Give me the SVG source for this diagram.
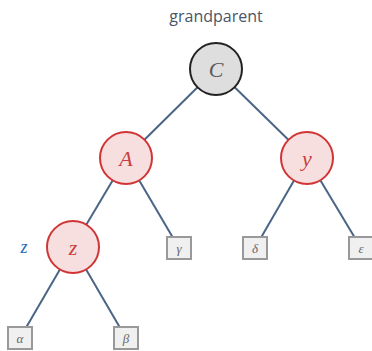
<svg xmlns="http://www.w3.org/2000/svg" width="372" height="351" viewBox="0 0 372 351">
<style>
.edge{stroke:#4a6586;stroke-width:2;fill:none}
.black circle{fill:#dedede;stroke:#222;stroke-width:2}
.red circle{fill:#f8dfdf;stroke:#d03434;stroke-width:2}
.nlab{font-family:"Liberation Serif",serif;font-style:italic;font-size:22px;text-anchor:middle;dominant-baseline:central}
.black .nlab{fill:#5a5a5a}
.red .nlab{fill:#c84040}
.leaf rect{fill:#f0f0f0;stroke:#999;stroke-width:2}
.leaf text{font-family:"Liberation Serif",serif;font-style:italic;font-size:13px;fill:#666;text-anchor:middle;dominant-baseline:central}
.title{font-family:"Open Sans",sans-serif;font-size:16px;fill:#4a5568;text-anchor:middle}
</style>
<rect width="372" height="351" fill="#fff"/>
<g id="connectors">
<line class="edge" x1="216" y1="69" x2="126" y2="158"/>
<line class="edge" x1="216" y1="69" x2="307" y2="158"/>
<line class="edge" x1="126" y1="158" x2="73" y2="247"/>
<line class="edge" x1="126" y1="158" x2="179" y2="248"/>
<line class="edge" x1="307" y1="158" x2="255" y2="248"/>
<line class="edge" x1="307" y1="158" x2="361" y2="248"/>
<line class="edge" x1="73" y1="247" x2="20" y2="338"/>
<line class="edge" x1="73" y1="247" x2="126" y2="338"/>
</g>
<text class="title" x="216" y="22">grandparent</text>
<g id="node-C" class="black"><circle cx="216" cy="69" r="26"/><text class="nlab" x="216" y="69">C</text></g>
<g id="node-A" class="red"><circle cx="126" cy="158" r="26"/><text class="nlab" x="126" y="158">A</text></g>
<g id="node-y" class="red"><circle cx="307" cy="158" r="26"/><text class="nlab" x="307" y="158">y</text></g>
<g id="node-z" class="red"><circle cx="73" cy="247" r="26"/><text class="nlab" x="73" y="247">z</text></g>
<text x="24" y="247" font-family="Liberation Serif,serif" font-style="italic" font-size="18" fill="#2a6ab8" text-anchor="middle" dominant-baseline="central">z</text>
<g id="leaf-gamma" class="leaf"><rect x="167" y="237" width="24" height="22"/><text x="179" y="248">γ</text></g>
<g id="leaf-delta" class="leaf"><rect x="243" y="237" width="24" height="22"/><text x="255" y="248">δ</text></g>
<g id="leaf-eps" class="leaf"><rect x="349" y="237" width="24" height="22"/><text x="361" y="248">ε</text></g>
<g id="leaf-alpha" class="leaf"><rect x="8" y="327" width="24" height="22"/><text x="20" y="338">α</text></g>
<g id="leaf-beta" class="leaf"><rect x="114" y="327" width="24" height="22"/><text x="126" y="338">β</text></g>
</svg>
